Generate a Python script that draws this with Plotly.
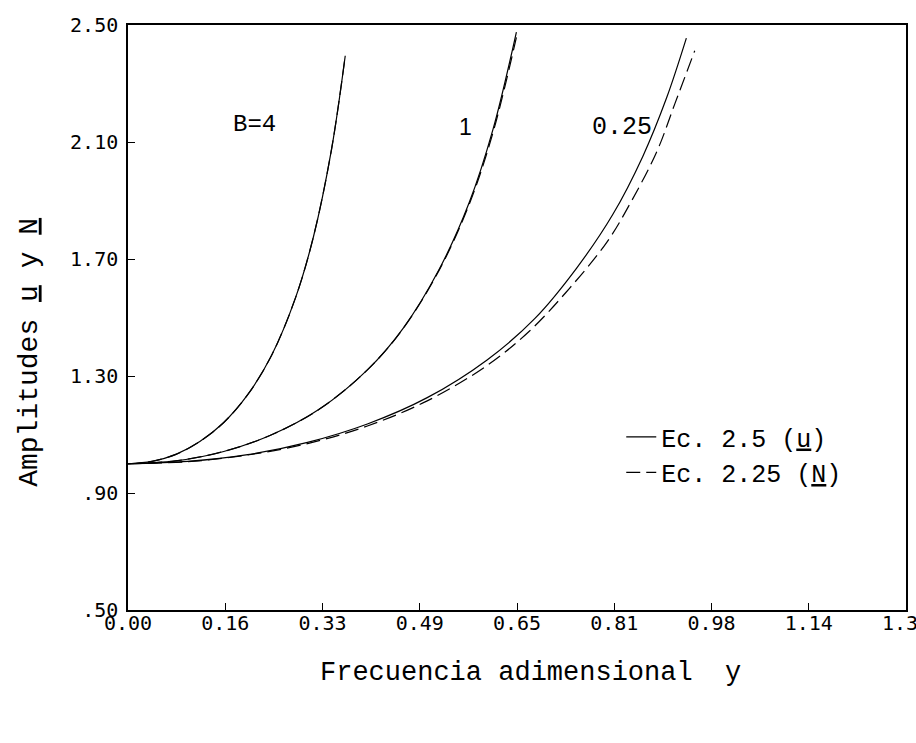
import plotly.graph_objects as go

# ---- data ----
x_b4 = [0.0, 0.04, 0.08, 0.12, 0.16, 0.20, 0.24, 0.28, 0.31, 0.34, 0.363]
u_b4 = [1.000, 1.008, 1.032, 1.076, 1.141, 1.236, 1.371, 1.568, 1.777, 2.074, 2.395]
n_b4 = [1.000, 1.008, 1.032, 1.076, 1.141, 1.236, 1.371, 1.568, 1.777, 2.074, 2.395]

x_b1 = [0.0, 0.08, 0.16, 0.24, 0.32, 0.40, 0.46, 0.52, 0.57, 0.61, 0.649]
u_b1 = [1.000, 1.010, 1.042, 1.099, 1.187, 1.321, 1.464, 1.665, 1.892, 2.144, 2.476]
n_b1 = [1.000, 1.010, 1.042, 1.099, 1.187, 1.321, 1.463, 1.662, 1.886, 2.133, 2.458]

x_b025_u = [0.0, 0.10, 0.20, 0.30, 0.40, 0.50, 0.60, 0.68, 0.75, 0.81, 0.86, 0.90, 0.933]
u_b025 = [1.000, 1.008, 1.031, 1.073, 1.136, 1.226, 1.355, 1.497, 1.670, 1.852, 2.050, 2.251, 2.455]
x_b025_n = [0.0, 0.10, 0.20, 0.30, 0.40, 0.50, 0.60, 0.671, 0.737, 0.80, 0.841, 0.884, 0.914, 0.947]
n_b025 = [1.000, 1.007, 1.030, 1.069, 1.129, 1.215, 1.336, 1.454, 1.598, 1.757, 1.897, 2.069, 2.232, 2.412]

x_tickvals = [0.0, 0.1625, 0.325, 0.4875, 0.65, 0.8125, 0.975, 1.1375, 1.3]
x_ticktext = ["0.00", "0.16", "0.33", "0.49", "0.65", "0.81", "0.98", "1.14", "1.30"]
y_tickvals = [0.5, 0.9, 1.3, 1.7, 2.1, 2.5]
y_ticktext = [".50", ".90", "1.30", "1.70", "2.10", "2.50"]

curve_labels = ["B=4", "1", "0.25"]
label_x = [0.212, 0.564, 0.826]
label_y = [2.16, 2.15, 2.15]
label_fonts = ["Liberation Mono", "Liberation Sans", "Liberation Mono"]
label_sizes = [24, 23, 25]

MONO = "Liberation Mono"
TICKF = "DejaVu Sans Mono"

fig = go.Figure()
line_solid = dict(color="black", width=1.2)
line_dash = dict(color="black", width=1.2, dash="14px,6px")

fig.add_trace(go.Scatter(x=x_b4, y=u_b4, mode="lines", line=line_solid, line_shape="spline",
                         name="Ec. 2.5 (<u>u</u>)", showlegend=True, legendrank=1))
fig.add_trace(go.Scatter(x=x_b4, y=n_b4, mode="lines", line=line_dash, line_shape="spline",
                         name="Ec. 2.25 (<u>N</u>)", showlegend=True, legendrank=2))
fig.add_trace(go.Scatter(x=x_b1, y=u_b1, mode="lines", line=line_solid, line_shape="spline", showlegend=False))
fig.add_trace(go.Scatter(x=x_b1, y=n_b1, mode="lines", line=line_dash, line_shape="spline", showlegend=False))
fig.add_trace(go.Scatter(x=x_b025_u, y=u_b025, mode="lines", line=line_solid, line_shape="spline", showlegend=False))
fig.add_trace(go.Scatter(x=x_b025_n, y=n_b025, mode="lines", line=line_dash, line_shape="spline", showlegend=False))

annotations = []
for i, t in enumerate(curve_labels):
    annotations.append(dict(x=label_x[i], y=label_y[i], xref="x", yref="y", text=t, showarrow=False,
                            font=dict(family=label_fonts[i], size=label_sizes[i], color="black")))
annotations.append(dict(x=0.517, y=-0.137, xref="paper", yref="paper", text="Frecuencia adimensional  y",
                        showarrow=False, font=dict(family=MONO, size=27, color="black")))
annotations.append(dict(x=-0.150, y=0.441, xref="paper", yref="paper", text="Amplitudes <u>u</u> y <u>N</u>",
                        showarrow=False, textangle=-90, font=dict(family=MONO, size=28, color="black")))

fig.update_layout(
    width=916, height=743,
    margin=dict(l=128, r=10, t=25, b=133),
    paper_bgcolor="white", plot_bgcolor="white",
    showlegend=True,
    legend=dict(x=0.634, y=0.335, xanchor="left", yanchor="top", bgcolor="rgba(0,0,0,0)",
                font=dict(family=MONO, size=25, color="black"), itemwidth=30, tracegroupgap=0),
    annotations=annotations,
)
fig.update_xaxes(range=[0, 1.3], tickvals=x_tickvals, ticktext=x_ticktext, ticks="inside", ticklen=7,
                 tickcolor="black", showline=True, linecolor="black", linewidth=1.5, mirror=True,
                 showgrid=False, zeroline=False, tickfont=dict(family=TICKF, size=20, color="black"),
                 automargin=False, ticklabelstandoff=-6, ticklabeloverflow="allow")
fig.update_yaxes(range=[0.5, 2.5], tickvals=y_tickvals, ticktext=y_ticktext, ticks="inside", ticklen=7,
                 tickcolor="black", showline=True, linecolor="black", linewidth=1.5, mirror=True,
                 showgrid=False, zeroline=False, tickfont=dict(family=TICKF, size=20, color="black"),
                 automargin=False, ticklabelstandoff=4)

fig.write_html("out.html")
